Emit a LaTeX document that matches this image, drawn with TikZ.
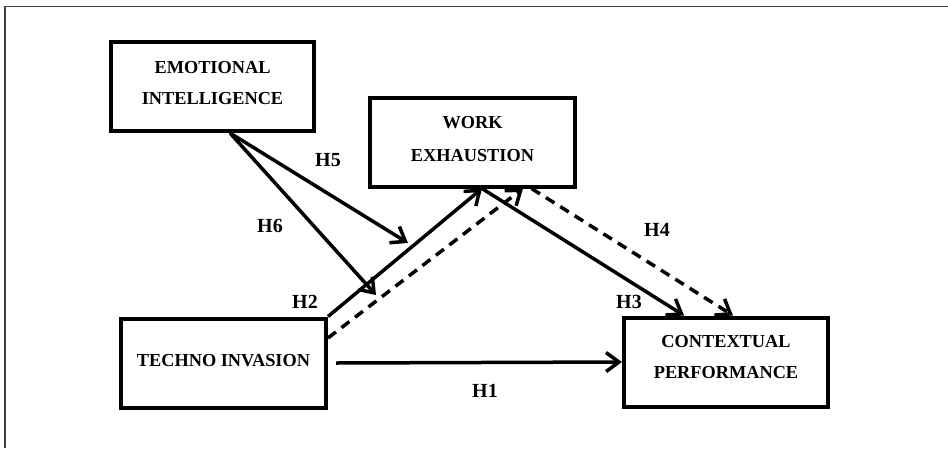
\documentclass[tikz,border=0pt]{standalone}
\usepackage{fontspec}
\setmainfont{Liberation Serif}
\usetikzlibrary{arrows.meta}
\newcommand{\lift}[1]{\rule[-#1]{0pt}{0pt}}
\begin{document}
\begin{tikzpicture}[x=1pt,y=-1pt,
  box/.style={draw=black,line width=4pt,minimum width=#1,minimum height=89pt,inner sep=0pt,align=center,
    font=\fontsize{18.3}{31}\selectfont\bfseries},
  box/.default=204pt,
  conn/.style={line width=3.5pt,-{Straight Barb[length=13pt,width=19pt,line width=3.5pt]}},
  dashconn/.style={conn,dash pattern=on 10pt off 7pt},
  hlab/.style={font=\fontsize{20}{20}\selectfont\bfseries,inner sep=0pt}]
\useasboundingbox (0,0) rectangle (948,448);
\draw[line width=1.5pt,black!75] (5,448) -- (5,6.5) -- (948,6.5);
% boxes
\node[box=203pt] (ei) at (212.5,86.5) {EMOTIONAL\\INTELLIGENCE\lift{8pt}};
\node[box=205pt] (we) at (472.5,142) {WORK\\[2pt]EXHAUSTION\lift{6pt}};
\node[box=205pt] (ti) at (223.5,363) {TECHNO INVASION\lift{6pt}};
\node[box=204pt] (cp) at (726,362) {CONTEXTUAL\\PERFORMANCE\lift{10pt}};
% free ends of moderation arrows
\coordinate (m5) at (408,243);
\coordinate (m6) at (376,295);
% connectors
\draw[conn] (ti.north east) -- ([xshift=9.5pt]we.south);
\draw[dashconn] ([yshift=25pt]ti.east) -- ([xshift=50.5pt]we.south);
\draw[conn] ([xshift=9.5pt]we.south) -- ([xshift=-42pt]cp.north);
\draw[dashconn] ([xshift=59pt]we.south) -- ([xshift=7pt]cp.north);
\draw[conn] ([xshift=8pt]ti.east) -- (cp.west);
\draw[conn] ([xshift=17.5pt]ei.south) -- (m5);
\draw[conn] ([xshift=17.5pt]ei.south) -- (m6);
% labels
\node[hlab] (h1) at (485,391) {H1};
\node[hlab] (h2) at (305,302) {H2};
\node[hlab] (h3) at (629,302) {H3};
\node[hlab] (h4) at (657,230) {H4};
\node[hlab] (h5) at (328,160) {H5};
\node[hlab] (h6) at (270,226) {H6};
\end{tikzpicture}
\end{document}
